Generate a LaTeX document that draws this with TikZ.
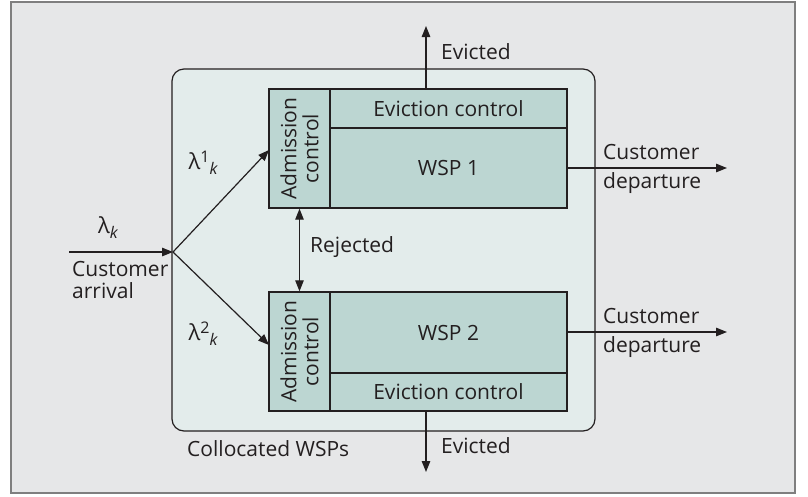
\documentclass[tikz,border=0pt]{standalone}
\usepackage{fontspec}
\setmainfont{Open Sans}
\usetikzlibrary{arrows.meta}
\definecolor{outerbg}{HTML}{E6E7E8}
\definecolor{framegray}{HTML}{7F7F7F}
\definecolor{innerbg}{HTML}{E3ECEB}
\definecolor{boxfill}{HTML}{BCD6D2}
\definecolor{ink}{HTML}{231F20}
\tikzset{
  cell/.style={draw=ink, line width=1.4pt, fill=boxfill, inner sep=0pt, anchor=center},
  lbl/.style={text=ink, font=\fontsize{21}{21}\selectfont, inner sep=0pt},
  flow/.style={draw=ink, line width=1.2pt, -{Triangle[length=11pt,width=8.5pt]}},
  biflow/.style={draw=ink, line width=1.2pt, {Triangle[length=11pt,width=8.5pt]}-{Triangle[length=11pt,width=8.5pt]}},
}
\newcommand{\lam}{{\fontsize{22}{22}\selectfont λ}}
\begin{document}
\begin{tikzpicture}[x=1pt,y=-1pt]
\useasboundingbox (0,0) rectangle (808,496);
\fill[white] (0,0) rectangle (808,496);
\draw[fill=outerbg, draw=framegray, line width=1.5pt] (11,2) rectangle (795,493);
% collocated area
\node[draw=ink, line width=1.2pt, fill=innerbg, rounded corners=12pt, minimum width=423pt, minimum height=362pt, inner sep=0pt] (coll) at (383.5,250) {};
\node[lbl, anchor=west] (colllbl) at (187,449) {Collocated WSPs};
% WSP 1
\node[cell, minimum width=61pt, minimum height=119pt] (adm1) at (299.5,148.5) {};
\node[lbl, rotate=90, align=center, font=\fontsize{21}{22}\selectfont] (adm1t) at (adm1.center) {Admission\\control};
\node[cell, minimum width=237pt, minimum height=39pt] (evc1) at (448.5,108.5) {};
\node[lbl] (evc1t) at (evc1.center) {Eviction control};
\node[cell, minimum width=237pt, minimum height=80pt] (wsp1) at (448.5,168) {};
\node[lbl] (wsp1t) at (wsp1.center) {WSP 1};
% WSP 2
\node[cell, minimum width=61pt, minimum height=119pt] (adm2) at (299.5,351.5) {};
\node[lbl, rotate=90, align=center, font=\fontsize{21}{22}\selectfont] (adm2t) at (adm2.center) {Admission\\control};
\node[cell, minimum width=237pt, minimum height=81pt] (wsp2) at (448.5,332.5) {};
\node[lbl] (wsp2t) at (wsp2.center) {WSP 2};
\node[cell, minimum width=237pt, minimum height=38pt] (evc2) at (448.5,392) {};
\node[lbl] (evc2t) at (evc2.center) {Eviction control};
% arrival
\coordinate (src) at (69,252);
\coordinate (split) at (173,252);
\draw[flow] (src) -- (split);
\node[lbl] (lamk) at (108,228) {\lam\raisebox{-0.45ex}{\fontsize{16}{16}\selectfont\itshape k}};
\node[lbl, anchor=north west, align=left, font=\fontsize{21}{22}\selectfont] (arr) at (72,261) {Customer\\arrival};
\coordinate (in1) at (269,150);
\coordinate (in2) at (269,345);
\draw[flow] (split) -- (in1);
\draw[flow] (split) -- (in2);
\node[lbl] (lam1) at (203,163) {\lam\raisebox{0.6ex}{\fontsize{16}{16}\selectfont 1}\raisebox{-0.5ex}{\fontsize{16}{16}\selectfont\itshape k}};
\node[lbl] (lam2) at (203,334) {\lam\raisebox{0.6ex}{\fontsize{16}{16}\selectfont 2}\raisebox{-0.5ex}{\fontsize{16}{16}\selectfont\itshape k}};
% rejected
\draw[biflow] (adm1.south) -- (adm2.north);
\node[lbl, anchor=west] (rej) at (310,247) {Rejected};
% evicted
\coordinate (ev1) at (426,26);
\coordinate (ev2) at (426,472);
\draw[flow] (evc1.north -| ev1) -- (ev1);
\draw[flow] (evc2.south -| ev2) -- (ev2);
\node[lbl, anchor=west] (ev1t) at (441,52) {Evicted};
\node[lbl, anchor=west] (ev2t) at (441,446) {Evicted};
% departures
\coordinate (dep1) at (727,168);
\coordinate (dep2) at (727,332);
\draw[flow] (wsp1.east |- dep1) -- (dep1);
\draw[flow] (wsp2.east |- dep2) -- (dep2);
\node[lbl, anchor=west] (d1a) at (603,152) {Customer};
\node[lbl, anchor=west] (d1b) at (603,183) {departure};
\node[lbl, anchor=west] (d2a) at (603,316) {Customer};
\node[lbl, anchor=west] (d2b) at (603,347) {departure};
\end{tikzpicture}
\end{document}
